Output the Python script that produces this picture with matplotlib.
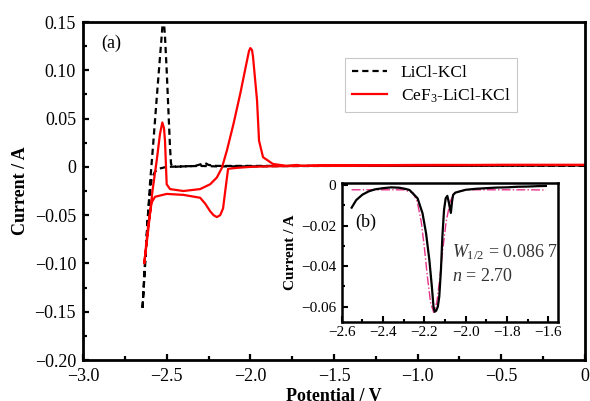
import matplotlib
matplotlib.use('agg')
import matplotlib.pyplot as plt
from matplotlib.ticker import MultipleLocator, FixedLocator, FixedFormatter

plt.rcParams['font.family'] = ['Liberation Serif', 'DejaVu Serif']
plt.rcParams['mathtext.fontset'] = 'custom'
plt.rcParams['mathtext.rm'] = 'Liberation Serif'
plt.rcParams['mathtext.it'] = 'Liberation Serif:italic'

# main panel: LiCl-KCl blank (forward scan then reverse)
licl_v = [0.0, -0.5, -1.0, -1.5, -1.8, -2.0, -2.2, -2.3, -2.4, -2.5, -2.55, -2.57,
          -2.59, -2.61, -2.63, -2.645,
          -2.63, -2.615, -2.60, -2.58, -2.56, -2.545, -2.53, -2.52, -2.51, -2.50,
          -2.49, -2.48, -2.474, -2.46, -2.40, -2.33, -2.29, -2.27, -2.25, -2.2,
          -2.0, -1.5, -1.0, -0.5, 0.0]
licl_i = [0.001, 0.0012, 0.001, 0.001, 0.0008, 0.0005, 0.0005, 0.001, 0.0005, 0.0,
          -0.002, -0.005, -0.012, -0.045, -0.10, -0.148,
          -0.105, -0.06, -0.018, 0.025, 0.07, 0.103, 0.135, 0.158, 0.135, 0.10,
          0.06, 0.02, 0.003, 0.0, 0.0005, 0.001, 0.003, 0.004, 0.002, 0.001,
          0.001, 0.001, 0.001, 0.0012, 0.0015]

# main panel: CeF3-LiCl-KCl
cef_v = [0.0, -0.5, -1.0, -1.5, -1.7, -1.9, -2.0, -2.08, -2.133, -2.15, -2.163,
         -2.18, -2.20, -2.22, -2.24, -2.27, -2.30, -2.40, -2.50, -2.57, -2.59,
         -2.61, -2.634,
         -2.61, -2.585, -2.56, -2.54, -2.526, -2.516, -2.51, -2.504, -2.50, -2.48,
         -2.40, -2.30, -2.24, -2.20, -2.17, -2.14, -2.10, -2.06, -2.02, -2.008,
         -2.0, -1.99, -1.984, -1.96, -1.948, -1.924, -1.865, -1.78, -1.72, -1.70,
         -1.5, -1.0, -0.5, 0.0]
cef_i = [0.002, 0.002, 0.0015, 0.0015, 0.001, 0.0005, 0.0, -0.001, -0.002, -0.025,
         -0.043, -0.050, -0.052, -0.050, -0.046, -0.038, -0.032, -0.029, -0.028,
         -0.031, -0.037, -0.06, -0.100,
         -0.065, -0.025, 0.006, 0.034, 0.046, 0.040, 0.027, 0.0, -0.018, -0.023,
         -0.025, -0.023, -0.018, -0.011, -0.001, 0.017, 0.045, 0.076, 0.11, 0.12,
         0.123, 0.121, 0.114, 0.069, 0.027, 0.010, 0.003, 0.001, 0.002, 0.001,
         0.0015, 0.002, 0.002, 0.002]

# inset: measured curve
sw_v = [-2.552, -2.53, -2.50, -2.47, -2.44, -2.40, -2.36, -2.32, -2.29, -2.272,
        -2.233, -2.209, -2.192, -2.176, -2.164, -2.156, -2.150, -2.143, -2.135,
        -2.128, -2.12, -2.113, -2.105, -2.097, -2.089, -2.081, -2.072, -2.066,
        -2.061, -2.050, -2.033, -2.00, -1.95, -1.90, -1.85, -1.80, -1.75, -1.70,
        -1.65, -1.612]
sw_i = [-0.0112, -0.0075, -0.0048, -0.0032, -0.0022, -0.0016, -0.0012, -0.0014,
        -0.0020, -0.0025, -0.0066, -0.014, -0.0238, -0.037, -0.050, -0.060,
        -0.0625, -0.062, -0.060, -0.055, -0.042, -0.0255, -0.0123, -0.0066,
        -0.0054, -0.009, -0.0138, -0.008, -0.0049, -0.0038, -0.0033, -0.0024,
        -0.0019, -0.0016, -0.0013, -0.0012, -0.0009, -0.0008, -0.0006, -0.0005]

# inset: fitted curve
fit_v = [-2.552, -2.45, -2.35, -2.30, -2.255, -2.235, -2.215, -2.20, -2.185,
         -2.17, -2.155, -2.14, -2.125, -2.11, -2.095, -2.075, -2.055, -2.00,
         -1.90, -1.80, -1.70, -1.612]
fit_i = [-0.0024, -0.0024, -0.0024, -0.0024, -0.0039, -0.0081, -0.0183, -0.0310,
         -0.0457, -0.0580, -0.0628, -0.0580, -0.0457, -0.0310, -0.0183, -0.0081,
         -0.0039, -0.0024, -0.0024, -0.0024, -0.0024, -0.0025]

main_xticks = [-3.0, -2.5, -2.0, -1.5, -1.0, -0.5, 0.0]
main_xlabels = ['\u22123.0', '\u22122.5', '\u22122.0', '\u22121.5', '\u22121.0', '\u22120.5', '0']
main_yticks = [-0.20, -0.15, -0.10, -0.05, 0.0, 0.05, 0.10, 0.15]
main_ylabels = ['\u22120.20', '\u22120.15', '\u22120.10', '\u22120.05', '0', '0.05', '0.10', '0.15']
ins_xticks = [-2.6, -2.4, -2.2, -2.0, -1.8, -1.6]
ins_xlabels = ['\u22122.6', '\u22122.4', '\u22122.2', '\u22122.0', '\u22121.8', '\u22121.6']
ins_yticks = [-0.06, -0.04, -0.02, 0.0]
ins_ylabels = ['\u22120.06', '\u22120.04', '\u22120.02', '0']

fig = plt.figure(figsize=(5.9, 4.01), dpi=100)
ax = fig.add_axes([0.1407, 0.1022, 0.8508, 0.8429])

ax.plot(licl_v, licl_i, color='black', lw=1.6, dashes=(2.8, 1.8), label='LiCl-KCl')
ax.plot(cef_v, cef_i, color='#ff0000', lw=1.6, label='CeF$_3$-LiCl-KCl')

ax.set_xlim(-3.0, 0.0)
ax.set_ylim(-0.20, 0.15)
ax.xaxis.set_major_locator(FixedLocator(main_xticks))
ax.xaxis.set_major_formatter(FixedFormatter(main_xlabels))
ax.yaxis.set_major_locator(FixedLocator(main_yticks))
ax.yaxis.set_major_formatter(FixedFormatter(main_ylabels))
ax.xaxis.set_minor_locator(MultipleLocator(0.25))
ax.yaxis.set_minor_locator(MultipleLocator(0.025))
ax.tick_params(which='both', direction='in', width=1.6, labelsize=13)
ax.tick_params(which='major', length=4.5)
ax.tick_params(which='minor', length=3)
ax.tick_params(axis='x', pad=6)
ax.tick_params(axis='y', pad=5)
for s in ax.spines.values():
    s.set_linewidth(2.0)

ax.set_xlabel('Potential / V', fontsize=13, fontweight='bold', labelpad=2)
ax.set_ylabel('Current / A', fontsize=13, fontweight='bold', labelpad=4)
ax.text(0.0558, 0.938, '(a)', transform=ax.transAxes, fontsize=13,
        ha='center', va='center')

leg = ax.legend(loc='upper left', bbox_to_anchor=(0.522, 0.893), fontsize=12.5,
                frameon=True, fancybox=False, edgecolor='#bbbbbb',
                handlelength=2.0, handletextpad=0.8, labelspacing=0.3,
                borderpad=0.4, borderaxespad=0.0)
leg.get_frame().set_linewidth(0.8)

# inset
ins = fig.add_axes([0.5792, 0.1978, 0.3671, 0.3451])
ins.plot(fit_v, fit_i, color='#e8338a', lw=1.0, ls='-.')
ins.plot(sw_v, sw_i, color='black', lw=1.6)
ins.set_xlim(-2.6, -1.552)
ins.set_ylim(-0.0674, 0.0008)
ins.xaxis.set_major_locator(FixedLocator(ins_xticks))
ins.xaxis.set_major_formatter(FixedFormatter(ins_xlabels))
ins.yaxis.set_major_locator(FixedLocator(ins_yticks))
ins.yaxis.set_major_formatter(FixedFormatter(ins_ylabels))
ins.xaxis.set_minor_locator(MultipleLocator(0.1))
ins.yaxis.set_minor_locator(MultipleLocator(0.01))
ins.tick_params(which='both', direction='in', width=1.5, labelsize=11)
ins.tick_params(which='major', length=4)
ins.tick_params(which='minor', length=2.5)
ins.tick_params(axis='x', pad=3)
ins.tick_params(axis='y', pad=4)
for s in ins.spines.values():
    s.set_linewidth(1.8)
ins.set_ylabel('Current / A', fontsize=11, fontweight='bold', labelpad=3)
ins.text(0.112, 0.72, '(b)', transform=ins.transAxes, fontsize=13,
         ha='center', va='center')
ins.text(0.509, 0.504, '$W_{1/2}$ = 0.086 7', transform=ins.transAxes, fontsize=13,
         ha='left', va='center', color='#333333')
ins.text(0.509, 0.323, '$n$ = 2.70', transform=ins.transAxes, fontsize=13,
         ha='left', va='center', color='#333333')

fig.savefig('out.png', dpi=100)
